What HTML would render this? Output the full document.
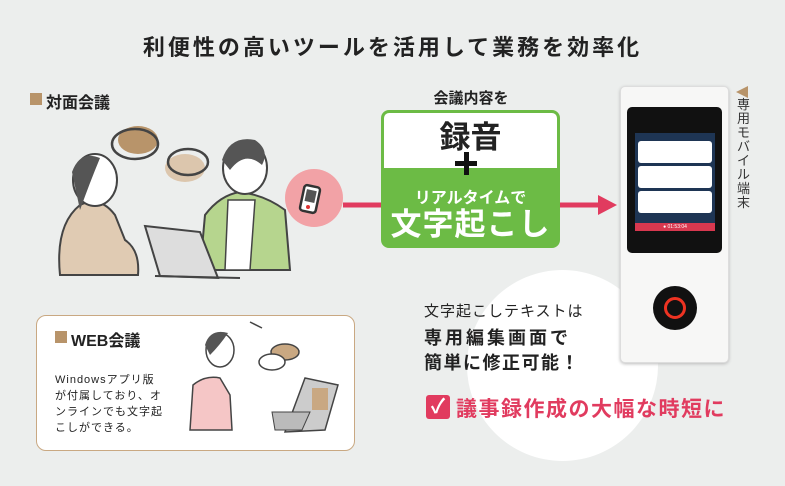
<!DOCTYPE html>
<html><head><meta charset="utf-8"><style>
*{margin:0;padding:0;box-sizing:border-box}
body{width:785px;height:486px;background:#eceeed;position:relative;overflow:hidden;font-family:"Liberation Sans","Noto Sans CJK JP",sans-serif;color:#222}
.a{position:absolute;white-space:nowrap}
</style></head><body>
<div class="a" style="left:0;width:785px;top:30px;text-align:center;font-size:22px;font-weight:bold;letter-spacing:3px">利便性の高いツールを活用して業務を効率化</div>

<div class="a" style="left:467px;top:270px;width:191px;height:191px;border-radius:50%;background:#fff"></div>

<div class="a" style="left:30px;top:93px;width:12px;height:12px;background:#b8946a"></div>
<div class="a" style="left:46px;top:89px;font-size:16px;font-weight:bold">対面会議</div>

<svg class="a" style="left:0;top:0" width="785" height="486">
 <ellipse cx="138" cy="140" rx="20" ry="14" fill="#b8946a"/>
 <ellipse cx="135" cy="144" rx="23" ry="15" fill="none" stroke="#444" stroke-width="2.5"/>
 <ellipse cx="185" cy="168" rx="20" ry="14" fill="#dcc6ad"/>
 <ellipse cx="188" cy="162" rx="20" ry="13" fill="none" stroke="#444" stroke-width="2.5"/>
 <path d="M60 275 Q55 225 80 205 Q100 195 115 215 L125 240 Q140 250 138 275 Z" fill="#e0cbb3" stroke="#444" stroke-width="2"/>
 <ellipse cx="95" cy="180" rx="22" ry="26" fill="#fff" stroke="#444" stroke-width="2"/>
 <path d="M72 172 Q80 150 100 158 Q90 182 80 210 Z" fill="#555"/>
 <path d="M200 270 L205 215 Q220 195 240 192 Q265 195 285 210 L290 270 Z" fill="#b6d58e" stroke="#444" stroke-width="2"/>
 <path d="M228 200 L255 200 L250 270 L225 270 Z" fill="#fff" stroke="#444" stroke-width="1.5"/>
 <ellipse cx="245" cy="168" rx="22" ry="26" fill="#fff" stroke="#444" stroke-width="2"/>
 <path d="M222 160 Q230 135 255 140 Q270 150 262 165 Q245 150 230 170 Z" fill="#555"/>
 <path d="M145 226 L200 232 L218 278 L160 276 Z" fill="#ddd" stroke="#444" stroke-width="2"/>
 <path d="M155 276 L240 278" stroke="#444" stroke-width="2"/>
 <circle cx="314" cy="198" r="29" fill="#f2a2a6"/>
 <rect x="302" y="186" width="16" height="26" rx="3" fill="#fff" stroke="#333" stroke-width="2.5" transform="rotate(12 310 199)"/>
 <rect x="305" y="190" width="10" height="12" fill="#555" transform="rotate(12 310 199)"/>
 <circle cx="308" cy="207" r="2" fill="#d33"/>
 <line x1="343" y1="205" x2="382" y2="205" stroke="#e13b5f" stroke-width="5"/>
 <line x1="558" y1="205" x2="600" y2="205" stroke="#e13b5f" stroke-width="5"/>
 <polygon points="598,195 617,205 598,215" fill="#e13b5f"/>
 <polygon points="748,86 736,92 748,98" fill="#b8946a"/>
</svg>

<div class="a" style="left:381px;top:87px;width:180px;text-align:center;font-size:15px;font-weight:bold">会議内容を</div>
<div class="a" style="left:381px;top:110px;width:179px;height:138px;border:3px solid #6cbb45;border-radius:8px;background:#6cbb45;overflow:hidden">
 <div style="background:#fff;height:55px;text-align:center;font-size:31px;font-weight:bold;line-height:50px">録音</div>
 <div style="text-align:center;color:#fff;font-weight:bold;font-size:16px;margin-top:16px">リアルタイムで</div>
 <div style="text-align:center;color:#fff;font-weight:bold;font-size:31px;line-height:34px;letter-spacing:1px">文字起こし</div>
</div>
<div class="a" style="left:455px;top:161px;width:22px;height:5px;background:#111"></div>
<div class="a" style="left:464px;top:152px;width:5px;height:23px;background:#111"></div>

<div class="a" style="left:620px;top:86px;width:109px;height:277px;background:#f7f7f6;border:1px solid #ddd;border-radius:5px;box-shadow:0 1px 3px #bbb"></div>
<div class="a" style="left:627px;top:107px;width:95px;height:146px;background:#111;border-radius:5px"></div>
<div class="a" style="left:635px;top:133px;width:80px;height:98px;background:#1e3554"></div>
<div class="a" style="left:638px;top:141px;width:74px;height:22px;background:#fff;border-radius:3px"></div>
<div class="a" style="left:638px;top:166px;width:74px;height:22px;background:#fff;border-radius:3px"></div>
<div class="a" style="left:638px;top:191px;width:74px;height:22px;background:#fff;border-radius:3px"></div>
<div class="a" style="left:635px;top:223px;width:80px;height:8px;background:#d8384f;color:#fff;font-size:5px;text-align:center;line-height:8px">● 01:53:04</div>
<div class="a" style="left:653px;top:286px;width:44px;height:44px;border-radius:50%;background:#111"></div>
<div class="a" style="left:664px;top:297px;width:22px;height:22px;border-radius:50%;border:3px solid #e32"></div>
<div class="a" style="left:737px;top:98px;width:14px;font-size:13px;line-height:14px;white-space:normal;color:#333">専用モバイル端末</div>

<div class="a" style="left:424px;top:300px;font-size:15px;letter-spacing:1px">文字起こしテキストは</div>
<div class="a" style="left:424px;top:324px;font-size:18px;font-weight:bold;letter-spacing:3px">専用編集画面で</div>
<div class="a" style="left:424px;top:349px;font-size:18px;font-weight:bold;letter-spacing:1.5px">簡単に修正可能！</div>
<div class="a" style="left:426px;top:395px;width:24px;height:24px;border-radius:3px;background:#e13b5f;color:#fff;font-size:20px;line-height:24px;text-align:center;font-weight:bold">✓</div>
<div class="a" style="left:456px;top:393px;font-size:21px;font-weight:bold;color:#e13b5f;letter-spacing:1.5px">議事録作成の大幅な時短に</div>

<div class="a" style="left:36px;top:315px;width:319px;height:136px;border:1.5px solid #c9a882;border-radius:10px;background:#fff"></div>
<svg class="a" style="left:0;top:0" width="785" height="486">
 <ellipse cx="285" cy="352" rx="14" ry="8" fill="#c9a882" stroke="#444" stroke-width="1.5"/>
 <ellipse cx="272" cy="362" rx="13" ry="8" fill="#fff" stroke="#444" stroke-width="1.5"/>
 <path d="M190 430 L193 385 Q205 375 220 378 L230 395 L232 430 Z" fill="#f5c6c6" stroke="#444" stroke-width="1.5"/>
 <ellipse cx="220" cy="350" rx="14" ry="17" fill="#fff" stroke="#444" stroke-width="1.5"/>
 <path d="M205 345 Q210 328 228 333 Q220 345 210 355 Z" fill="#555"/>
 <path d="M305 378 L338 385 L325 430 L285 432 Z" fill="#ccc" stroke="#444" stroke-width="1.5"/>
 <rect x="312" y="388" width="16" height="22" fill="#c9a882"/>
 <path d="M272 412 L310 412 L302 430 L275 430 Z" fill="#bbb" stroke="#444" stroke-width="1"/>
 <line x1="250" y1="322" x2="262" y2="328" stroke="#444" stroke-width="1.5"/>
</svg>
<div class="a" style="left:55px;top:331px;width:12px;height:12px;background:#b8946a"></div>
<div class="a" style="left:71px;top:327px;font-size:16px;font-weight:bold">WEB会議</div>
<div class="a" style="left:55px;top:372px;font-size:11px;line-height:16px;letter-spacing:1px">Windowsアプリ版<br>が付属しており、オ<br>ンラインでも文字起<br>こしができる。</div>
</body></html>
